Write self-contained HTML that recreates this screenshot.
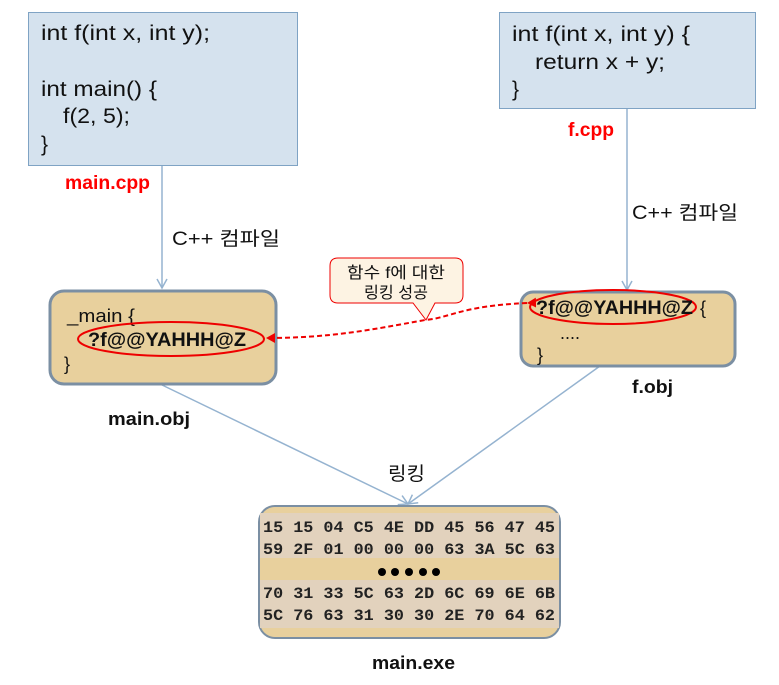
<!DOCTYPE html>
<html><head><meta charset="utf-8"><style>
html,body{margin:0;padding:0;background:#fff;}
svg{display:block;font-family:"Liberation Sans","Noto Sans CJK KR",sans-serif;}
.code{font-size:21px;fill:#111;}
.hex{font-family:"Liberation Mono","DejaVu Sans Mono",monospace;font-size:16px;font-weight:bold;fill:#222;}
</style></head><body>
<svg width="779" height="685" viewBox="0 0 779 685">
<defs>
<marker id="ab" markerWidth="12" markerHeight="12" refX="10" refY="6" orient="auto" markerUnits="userSpaceOnUse"><path d="M1,1 L10,6 L1,11" fill="none" stroke="#95b3d0" stroke-width="1.5"/></marker>
<marker id="ar" markerWidth="10" markerHeight="10" refX="9" refY="5" orient="auto" markerUnits="userSpaceOnUse"><path d="M0,0 L9,5 L0,10 z" fill="#e00"/></marker>
</defs>
<line x1="162" y1="166" x2="162" y2="288" stroke="#95b3d0" stroke-width="1.5" marker-end="url(#ab)"/>
<line x1="627" y1="109" x2="627" y2="290" stroke="#95b3d0" stroke-width="1.5" marker-end="url(#ab)"/>
<line x1="160" y1="384" x2="408" y2="504" stroke="#95b3d0" stroke-width="1.5" marker-end="url(#ab)"/>
<line x1="600" y1="366" x2="408" y2="504" stroke="#95b3d0" stroke-width="1.5" marker-end="url(#ab)"/>
<text x="172" y="245" font-size="19" fill="#111" textLength="108" lengthAdjust="spacingAndGlyphs">C++ 컴파일</text>
<text x="632" y="219" font-size="19" fill="#111" textLength="106" lengthAdjust="spacingAndGlyphs">C++ 컴파일</text>
<text x="388" y="480" font-size="19" fill="#111" textLength="37" lengthAdjust="spacingAndGlyphs">링킹</text>

<g>
<rect x="28.5" y="12.5" width="269" height="153" fill="#d5e2ee" stroke="#7fa3c4" stroke-width="1"/>
<text class="code" x="41" y="40" textLength="169" lengthAdjust="spacingAndGlyphs">int f(int x, int y);</text>
<text class="code" x="41" y="96" textLength="116" lengthAdjust="spacingAndGlyphs">int main() {</text>
<text class="code" x="63" y="123" textLength="67" lengthAdjust="spacingAndGlyphs">f(2, 5);</text>
<text class="code" x="41" y="151">}</text>
</g>
<text x="65" y="189" font-size="19" font-weight="bold" fill="#f00" textLength="85" lengthAdjust="spacingAndGlyphs">main.cpp</text>

<g>
<rect x="499.5" y="12.5" width="256" height="96" fill="#d5e2ee" stroke="#7fa3c4" stroke-width="1"/>
<text class="code" x="512" y="41" textLength="178" lengthAdjust="spacingAndGlyphs">int f(int x, int y) {</text>
<text class="code" x="535" y="69" textLength="130" lengthAdjust="spacingAndGlyphs">return x + y;</text>
<text class="code" x="512" y="96">}</text>
</g>
<text x="568" y="136" font-size="19" font-weight="bold" fill="#f00" textLength="46" lengthAdjust="spacingAndGlyphs">f.cpp</text>

<g>
<rect x="50" y="291" width="226" height="93" rx="14" fill="#e8d09d" stroke="#7b8fa3" stroke-width="3"/>
<text x="67" y="322" font-size="18" fill="#111" textLength="68" lengthAdjust="spacingAndGlyphs">_main {</text>
<ellipse cx="171" cy="339" rx="93" ry="17" fill="none" stroke="#e00" stroke-width="2"/>
<text x="88" y="346" font-size="19" font-weight="bold" fill="#111" textLength="158" lengthAdjust="spacingAndGlyphs">?f@@YAHHH@Z</text>
<text x="64" y="370" font-size="18" fill="#111">}</text>
</g>
<text x="108" y="425" font-size="18" font-weight="bold" fill="#111" textLength="82" lengthAdjust="spacingAndGlyphs">main.obj</text>

<g>
<rect x="521" y="292" width="214" height="74" rx="12" fill="#e8d09d" stroke="#7b8fa3" stroke-width="3"/>
<ellipse cx="613" cy="307" rx="83" ry="17" fill="none" stroke="#e00" stroke-width="2"/>
<text x="536" y="314" font-size="19" font-weight="bold" fill="#111" textLength="157" lengthAdjust="spacingAndGlyphs">?f@@YAHHH@Z</text>
<text x="700" y="314" font-size="18" fill="#111">{</text>
<text x="560" y="339" font-size="18" fill="#111">....</text>
<text x="537" y="361" font-size="18" fill="#111">}</text>
</g>
<text x="632" y="393" font-size="18" font-weight="bold" fill="#111" textLength="41" lengthAdjust="spacingAndGlyphs">f.obj</text>

<path d="M527,303 C460,306 450,318 425,320 C370,330 330,338 266,338" fill="none" stroke="#e00" stroke-width="2" stroke-dasharray="5,3" marker-start="url(#ar)" marker-end="url(#ar)"/>

<g>
<path d="M338,258 H455 Q463,258 463,266 V295 Q463,303 455,303 H435 L426,320 L413,303 H338 Q330,303 330,295 V266 Q330,258 338,258 Z" fill="#fdf3e3" stroke="#e00" stroke-width="1"/>
<text x="396" y="278" font-size="16" fill="#111" text-anchor="middle" textLength="98" lengthAdjust="spacingAndGlyphs">함수 f에 대한</text>
<text x="396" y="298" font-size="16" fill="#111" text-anchor="middle" textLength="64" lengthAdjust="spacingAndGlyphs">링킹 성공</text>
</g>

<g>
<rect x="259" y="506" width="301" height="132" rx="16" fill="#e8d09d" stroke="#7b8fa3" stroke-width="2"/>
<rect x="260" y="513" width="299" height="45" fill="#e2d2bd"/>
<rect x="260" y="580" width="299" height="48" fill="#e2d2bd"/>
<text class="hex" x="263" y="532" textLength="292" lengthAdjust="spacingAndGlyphs">15 15 04 C5 4E DD 45 56 47 45</text>
<text class="hex" x="263" y="554" textLength="292" lengthAdjust="spacingAndGlyphs">59 2F 01 00 00 00 63 3A 5C 63</text>
<g fill="#000"><circle cx="382" cy="572" r="4"/><circle cx="395" cy="572" r="4"/><circle cx="409" cy="572" r="4"/><circle cx="423" cy="572" r="4"/><circle cx="436" cy="572" r="4"/></g>
<text class="hex" x="263" y="598" textLength="292" lengthAdjust="spacingAndGlyphs">70 31 33 5C 63 2D 6C 69 6E 6B</text>
<text class="hex" x="263" y="620" textLength="292" lengthAdjust="spacingAndGlyphs">5C 76 63 31 30 30 2E 70 64 62</text>
</g>
<text x="372" y="669" font-size="18" font-weight="bold" fill="#111" textLength="83" lengthAdjust="spacingAndGlyphs">main.exe</text>
</svg>
</body></html>
